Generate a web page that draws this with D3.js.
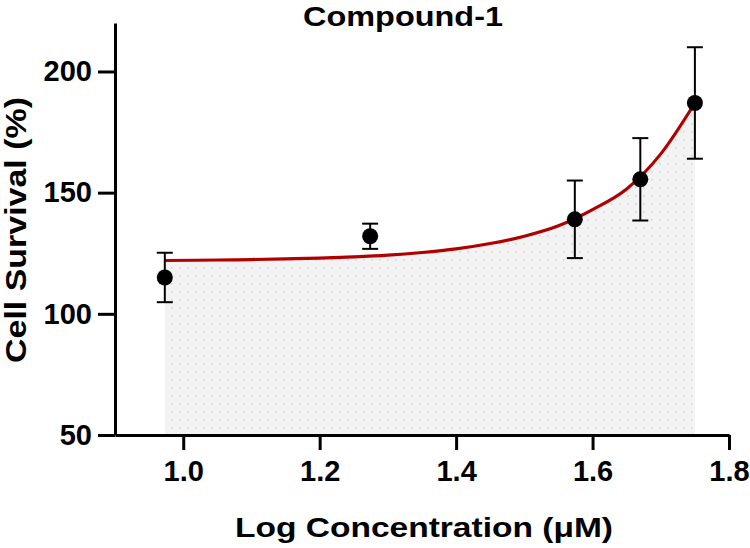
<!DOCTYPE html>
<html>
<head>
<meta charset="utf-8">
<script src="https://cdn.jsdelivr.net/npm/d3@7"></script>
<style>
  body { margin: 0; background: #fff; }
  text { font-family: "Liberation Sans", Arial, sans-serif; font-weight: bold; fill: #000; }
</style>
</head>
<body>
<div id="chart"></div>
<script>
// measured points (log conc, mean, error)
const logConc = [0.973, 1.274, 1.574, 1.670, 1.750];
const survival = [115, 132, 139, 155.5, 187];
const errBar = [10.2, 5.2, 16, 17, 23];

// fitted curve
const curveX = [0.973, 1.05, 1.10, 1.15, 1.20, 1.25, 1.30, 1.35, 1.40, 1.45, 1.50, 1.55, 1.60, 1.65, 1.70, 1.75];
const curveY = [122.0, 122.2, 122.4, 122.7, 123.0, 123.5, 124.2, 125.3, 126.8, 129.0, 132.0, 136.3, 143.0, 151.5, 166.0, 187.0];

const xTicks = [1.0, 1.2, 1.4, 1.6, 1.8];
const yTicks = [50, 100, 150, 200];

const width = 750, height = 548;
const margin = {top: 23, right: 21, bottom: 113, left: 115};

const svg = d3.select('#chart')
  .append('svg')
  .attr('width', width)
  .attr('height', height);

const x = d3.scaleLinear()
  .domain([0.9, 1.8])
  .range([margin.left, width - margin.right]);

const y = d3.scaleLinear()
  .domain([50, 220])
  .range([height - margin.bottom, margin.top]);

// dotted fill pattern
const defs = svg.append('defs');
const pat = defs.append('pattern')
  .attr('id', 'dots')
  .attr('patternUnits', 'userSpaceOnUse')
  .attr('width', 8)
  .attr('height', 8);
pat.append('rect').attr('width', 8).attr('height', 8).attr('fill', '#f3f3f3');
pat.append('rect').attr('x', 3).attr('y', 3).attr('width', 1.6).attr('height', 1.6).attr('fill', '#d6d6d6');

const curve = curveX.map((d, i) => ({x: d, y: curveY[i]}));

svg.append('path')
  .datum(curve)
  .attr('fill', 'url(#dots)')
  .attr('d', d3.area()
    .x(d => x(d.x))
    .y0(y(50))
    .y1(d => y(d.y))
    .curve(d3.curveMonotoneX));

svg.append('path')
  .datum(curve)
  .attr('fill', 'none')
  .attr('stroke', '#b00000')
  .attr('stroke-width', 3.2)
  .attr('d', d3.line()
    .x(d => x(d.x))
    .y(d => y(d.y))
    .curve(d3.curveMonotoneX));

// error bars
const pts = logConc.map((d, i) => ({x: d, y: survival[i], e: errBar[i]}));
const eb = svg.append('g')
  .attr('stroke', '#000')
  .attr('stroke-width', 2);

eb.selectAll('.stem')
  .data(pts)
  .enter()
  .append('line')
  .attr('x1', d => x(d.x))
  .attr('x2', d => x(d.x))
  .attr('y1', d => y(d.y - d.e))
  .attr('y2', d => y(d.y + d.e));

eb.selectAll('.capT')
  .data(pts)
  .enter()
  .append('line')
  .attr('x1', d => x(d.x) - 8)
  .attr('x2', d => x(d.x) + 8)
  .attr('y1', d => y(d.y + d.e))
  .attr('y2', d => y(d.y + d.e));

eb.selectAll('.capB')
  .data(pts)
  .enter()
  .append('line')
  .attr('x1', d => x(d.x) - 8)
  .attr('x2', d => x(d.x) + 8)
  .attr('y1', d => y(d.y - d.e))
  .attr('y2', d => y(d.y - d.e));

svg.append('g')
  .selectAll('circle')
  .data(pts)
  .enter()
  .append('circle')
  .attr('cx', d => x(d.x))
  .attr('cy', d => y(d.y))
  .attr('r', 8)
  .attr('fill', '#000');

// axes
const xAxis = d3.axisBottom(x)
  .tickValues(xTicks)
  .tickFormat(d3.format('.1f'))
  .tickSize(15)
  .tickSizeOuter(0)
  .tickPadding(10);

const yAxis = d3.axisLeft(y)
  .tickValues(yTicks)
  .tickSize(17)
  .tickSizeOuter(0)
  .tickPadding(6);

const gx = svg.append('g')
  .attr('transform', `translate(0,${height - margin.bottom})`)
  .call(xAxis);

const gy = svg.append('g')
  .attr('transform', `translate(${margin.left},0)`)
  .call(yAxis);

[gx, gy].forEach(g => {
  g.select('.domain').attr('stroke-width', 3).attr('stroke', '#000');
  g.selectAll('.tick line').attr('stroke-width', 3).attr('stroke', '#000');
  g.selectAll('.tick text')
    .attr('font-family', '"Liberation Sans", Arial, sans-serif')
    .attr('font-weight', 'bold')
    .attr('font-size', 29)
    .attr('fill', '#000');
});

// titles (glyphs in the source are a bit wider than Liberation Sans)
svg.append('text')
  .attr('x', 403)
  .attr('y', 26)
  .attr('text-anchor', 'middle')
  .attr('font-size', 28)
  .attr('textLength', 200)
  .attr('lengthAdjust', 'spacingAndGlyphs')
  .text('Compound-1');

svg.append('text')
  .attr('x', 424)
  .attr('y', 537)
  .attr('text-anchor', 'middle')
  .attr('font-size', 28)
  .attr('textLength', 378)
  .attr('lengthAdjust', 'spacingAndGlyphs')
  .text('Log Concentration (μM)');

svg.append('text')
  .attr('transform', 'translate(26,230) rotate(-90)')
  .attr('text-anchor', 'middle')
  .attr('font-size', 30)
  .attr('textLength', 266)
  .attr('lengthAdjust', 'spacingAndGlyphs')
  .text('Cell Survival (%)');
</script>
</body>
</html>
